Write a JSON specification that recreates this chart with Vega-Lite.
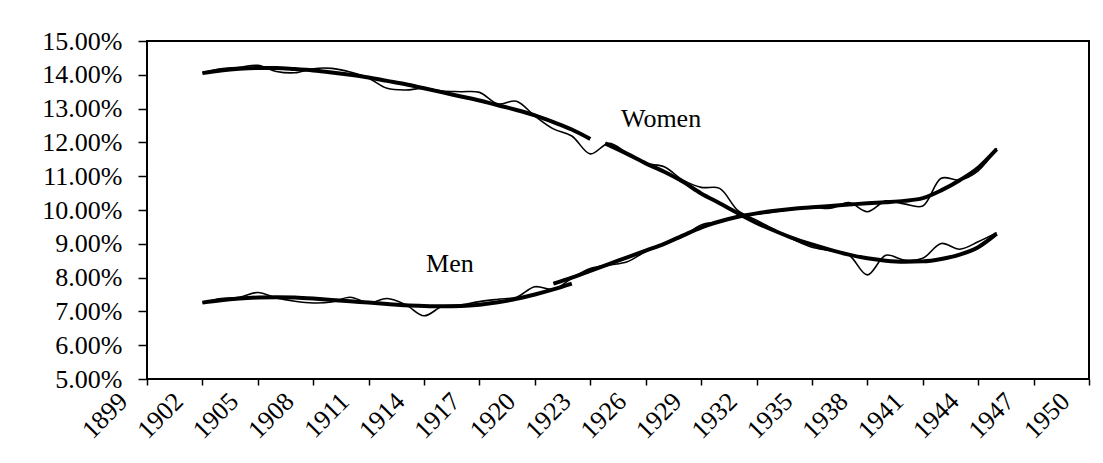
{
  "$schema": "https://vega.github.io/schema/vega-lite/v6.json",
  "width": 942,
  "height": 338,
  "autosize": {"type": "none"},
  "padding": {"left": 147, "top": 41, "right": 14, "bottom": 84},
  "background": "white",
  "config": {
    "view": {"stroke": "black", "strokeWidth": 2},
    "font": "Liberation Serif",
    "axis": {"labelOverlap": false, "labelSeparation": 0}
  },
  "datasets": {
    "series": [
      {"sex": "Women", "kind": "raw", "seg": "W-raw", "year": 1902, "value": 14.06},
      {"sex": "Women", "kind": "raw", "seg": "W-raw", "year": 1903, "value": 14.18},
      {"sex": "Women", "kind": "raw", "seg": "W-raw", "year": 1904, "value": 14.22},
      {"sex": "Women", "kind": "raw", "seg": "W-raw", "year": 1905, "value": 14.28},
      {"sex": "Women", "kind": "raw", "seg": "W-raw", "year": 1906, "value": 14.1},
      {"sex": "Women", "kind": "raw", "seg": "W-raw", "year": 1907, "value": 14.06},
      {"sex": "Women", "kind": "raw", "seg": "W-raw", "year": 1908, "value": 14.18},
      {"sex": "Women", "kind": "raw", "seg": "W-raw", "year": 1909, "value": 14.19},
      {"sex": "Women", "kind": "raw", "seg": "W-raw", "year": 1910, "value": 14.08},
      {"sex": "Women", "kind": "raw", "seg": "W-raw", "year": 1911, "value": 13.9},
      {"sex": "Women", "kind": "raw", "seg": "W-raw", "year": 1912, "value": 13.6},
      {"sex": "Women", "kind": "raw", "seg": "W-raw", "year": 1913, "value": 13.55},
      {"sex": "Women", "kind": "raw", "seg": "W-raw", "year": 1914, "value": 13.6},
      {"sex": "Women", "kind": "raw", "seg": "W-raw", "year": 1915, "value": 13.52},
      {"sex": "Women", "kind": "raw", "seg": "W-raw", "year": 1916, "value": 13.5},
      {"sex": "Women", "kind": "raw", "seg": "W-raw", "year": 1917, "value": 13.48},
      {"sex": "Women", "kind": "raw", "seg": "W-raw", "year": 1918, "value": 13.14},
      {"sex": "Women", "kind": "raw", "seg": "W-raw", "year": 1919, "value": 13.22},
      {"sex": "Women", "kind": "raw", "seg": "W-raw", "year": 1920, "value": 12.78},
      {"sex": "Women", "kind": "raw", "seg": "W-raw", "year": 1921, "value": 12.4},
      {"sex": "Women", "kind": "raw", "seg": "W-raw", "year": 1922, "value": 12.19},
      {"sex": "Women", "kind": "raw", "seg": "W-raw", "year": 1923, "value": 11.66},
      {"sex": "Women", "kind": "raw", "seg": "W-raw", "year": 1924, "value": 11.97},
      {"sex": "Women", "kind": "raw", "seg": "W-raw", "year": 1925, "value": 11.68},
      {"sex": "Women", "kind": "raw", "seg": "W-raw", "year": 1926, "value": 11.38},
      {"sex": "Women", "kind": "raw", "seg": "W-raw", "year": 1927, "value": 11.28},
      {"sex": "Women", "kind": "raw", "seg": "W-raw", "year": 1928, "value": 10.89},
      {"sex": "Women", "kind": "raw", "seg": "W-raw", "year": 1929, "value": 10.67},
      {"sex": "Women", "kind": "raw", "seg": "W-raw", "year": 1930, "value": 10.64},
      {"sex": "Women", "kind": "raw", "seg": "W-raw", "year": 1931, "value": 9.98},
      {"sex": "Women", "kind": "raw", "seg": "W-raw", "year": 1932, "value": 9.7},
      {"sex": "Women", "kind": "raw", "seg": "W-raw", "year": 1933, "value": 9.41},
      {"sex": "Women", "kind": "raw", "seg": "W-raw", "year": 1934, "value": 9.13},
      {"sex": "Women", "kind": "raw", "seg": "W-raw", "year": 1935, "value": 8.9},
      {"sex": "Women", "kind": "raw", "seg": "W-raw", "year": 1936, "value": 8.8},
      {"sex": "Women", "kind": "raw", "seg": "W-raw", "year": 1937, "value": 8.67},
      {"sex": "Women", "kind": "raw", "seg": "W-raw", "year": 1938, "value": 8.08},
      {"sex": "Women", "kind": "raw", "seg": "W-raw", "year": 1939, "value": 8.66},
      {"sex": "Women", "kind": "raw", "seg": "W-raw", "year": 1940, "value": 8.52},
      {"sex": "Women", "kind": "raw", "seg": "W-raw", "year": 1941, "value": 8.57},
      {"sex": "Women", "kind": "raw", "seg": "W-raw", "year": 1942, "value": 9.01},
      {"sex": "Women", "kind": "raw", "seg": "W-raw", "year": 1943, "value": 8.84},
      {"sex": "Women", "kind": "raw", "seg": "W-raw", "year": 1944, "value": 9.06},
      {"sex": "Women", "kind": "raw", "seg": "W-raw", "year": 1945, "value": 9.33},

      {"sex": "Men", "kind": "raw", "seg": "M-raw", "year": 1902, "value": 7.26},
      {"sex": "Men", "kind": "raw", "seg": "M-raw", "year": 1903, "value": 7.38},
      {"sex": "Men", "kind": "raw", "seg": "M-raw", "year": 1904, "value": 7.42},
      {"sex": "Men", "kind": "raw", "seg": "M-raw", "year": 1905, "value": 7.56},
      {"sex": "Men", "kind": "raw", "seg": "M-raw", "year": 1906, "value": 7.4},
      {"sex": "Men", "kind": "raw", "seg": "M-raw", "year": 1907, "value": 7.3},
      {"sex": "Men", "kind": "raw", "seg": "M-raw", "year": 1908, "value": 7.25},
      {"sex": "Men", "kind": "raw", "seg": "M-raw", "year": 1909, "value": 7.28},
      {"sex": "Men", "kind": "raw", "seg": "M-raw", "year": 1910, "value": 7.42},
      {"sex": "Men", "kind": "raw", "seg": "M-raw", "year": 1911, "value": 7.25},
      {"sex": "Men", "kind": "raw", "seg": "M-raw", "year": 1912, "value": 7.38},
      {"sex": "Men", "kind": "raw", "seg": "M-raw", "year": 1913, "value": 7.2},
      {"sex": "Men", "kind": "raw", "seg": "M-raw", "year": 1914, "value": 6.87},
      {"sex": "Men", "kind": "raw", "seg": "M-raw", "year": 1915, "value": 7.15},
      {"sex": "Men", "kind": "raw", "seg": "M-raw", "year": 1916, "value": 7.19},
      {"sex": "Men", "kind": "raw", "seg": "M-raw", "year": 1917, "value": 7.29},
      {"sex": "Men", "kind": "raw", "seg": "M-raw", "year": 1918, "value": 7.36},
      {"sex": "Men", "kind": "raw", "seg": "M-raw", "year": 1919, "value": 7.42},
      {"sex": "Men", "kind": "raw", "seg": "M-raw", "year": 1920, "value": 7.73},
      {"sex": "Men", "kind": "raw", "seg": "M-raw", "year": 1921, "value": 7.65},
      {"sex": "Men", "kind": "raw", "seg": "M-raw", "year": 1922, "value": 7.98},
      {"sex": "Men", "kind": "raw", "seg": "M-raw", "year": 1923, "value": 8.27},
      {"sex": "Men", "kind": "raw", "seg": "M-raw", "year": 1924, "value": 8.37},
      {"sex": "Men", "kind": "raw", "seg": "M-raw", "year": 1925, "value": 8.47},
      {"sex": "Men", "kind": "raw", "seg": "M-raw", "year": 1926, "value": 8.77},
      {"sex": "Men", "kind": "raw", "seg": "M-raw", "year": 1927, "value": 9.01},
      {"sex": "Men", "kind": "raw", "seg": "M-raw", "year": 1928, "value": 9.21},
      {"sex": "Men", "kind": "raw", "seg": "M-raw", "year": 1929, "value": 9.56},
      {"sex": "Men", "kind": "raw", "seg": "M-raw", "year": 1930, "value": 9.65},
      {"sex": "Men", "kind": "raw", "seg": "M-raw", "year": 1931, "value": 9.82},
      {"sex": "Men", "kind": "raw", "seg": "M-raw", "year": 1932, "value": 9.88},
      {"sex": "Men", "kind": "raw", "seg": "M-raw", "year": 1933, "value": 9.95},
      {"sex": "Men", "kind": "raw", "seg": "M-raw", "year": 1934, "value": 10.02},
      {"sex": "Men", "kind": "raw", "seg": "M-raw", "year": 1935, "value": 10.08},
      {"sex": "Men", "kind": "raw", "seg": "M-raw", "year": 1936, "value": 10.05},
      {"sex": "Men", "kind": "raw", "seg": "M-raw", "year": 1937, "value": 10.22},
      {"sex": "Men", "kind": "raw", "seg": "M-raw", "year": 1938, "value": 9.95},
      {"sex": "Men", "kind": "raw", "seg": "M-raw", "year": 1939, "value": 10.27},
      {"sex": "Men", "kind": "raw", "seg": "M-raw", "year": 1940, "value": 10.18},
      {"sex": "Men", "kind": "raw", "seg": "M-raw", "year": 1941, "value": 10.12},
      {"sex": "Men", "kind": "raw", "seg": "M-raw", "year": 1942, "value": 10.94},
      {"sex": "Men", "kind": "raw", "seg": "M-raw", "year": 1943, "value": 10.89},
      {"sex": "Men", "kind": "raw", "seg": "M-raw", "year": 1944, "value": 11.16},
      {"sex": "Men", "kind": "raw", "seg": "M-raw", "year": 1945, "value": 11.83},

      {"sex": "Women", "kind": "trend", "seg": "W-t1", "year": 1902, "value": 14.05},
      {"sex": "Women", "kind": "trend", "seg": "W-t1", "year": 1903, "value": 14.13},
      {"sex": "Women", "kind": "trend", "seg": "W-t1", "year": 1904, "value": 14.18},
      {"sex": "Women", "kind": "trend", "seg": "W-t1", "year": 1905, "value": 14.2},
      {"sex": "Women", "kind": "trend", "seg": "W-t1", "year": 1906, "value": 14.2},
      {"sex": "Women", "kind": "trend", "seg": "W-t1", "year": 1907, "value": 14.17},
      {"sex": "Women", "kind": "trend", "seg": "W-t1", "year": 1908, "value": 14.13},
      {"sex": "Women", "kind": "trend", "seg": "W-t1", "year": 1909, "value": 14.07},
      {"sex": "Women", "kind": "trend", "seg": "W-t1", "year": 1910, "value": 14.0},
      {"sex": "Women", "kind": "trend", "seg": "W-t1", "year": 1911, "value": 13.92},
      {"sex": "Women", "kind": "trend", "seg": "W-t1", "year": 1912, "value": 13.82},
      {"sex": "Women", "kind": "trend", "seg": "W-t1", "year": 1913, "value": 13.72},
      {"sex": "Women", "kind": "trend", "seg": "W-t1", "year": 1914, "value": 13.6},
      {"sex": "Women", "kind": "trend", "seg": "W-t1", "year": 1915, "value": 13.48},
      {"sex": "Women", "kind": "trend", "seg": "W-t1", "year": 1916, "value": 13.36},
      {"sex": "Women", "kind": "trend", "seg": "W-t1", "year": 1917, "value": 13.24},
      {"sex": "Women", "kind": "trend", "seg": "W-t1", "year": 1918, "value": 13.1},
      {"sex": "Women", "kind": "trend", "seg": "W-t1", "year": 1919, "value": 12.96},
      {"sex": "Women", "kind": "trend", "seg": "W-t1", "year": 1920, "value": 12.8},
      {"sex": "Women", "kind": "trend", "seg": "W-t1", "year": 1921, "value": 12.6},
      {"sex": "Women", "kind": "trend", "seg": "W-t1", "year": 1922, "value": 12.38},
      {"sex": "Women", "kind": "trend", "seg": "W-t1", "year": 1923, "value": 12.1},

      {"sex": "Women", "kind": "trend", "seg": "W-t2", "year": 1923.8, "value": 11.97},
      {"sex": "Women", "kind": "trend", "seg": "W-t2", "year": 1925, "value": 11.66},
      {"sex": "Women", "kind": "trend", "seg": "W-t2", "year": 1926, "value": 11.38},
      {"sex": "Women", "kind": "trend", "seg": "W-t2", "year": 1927, "value": 11.13},
      {"sex": "Women", "kind": "trend", "seg": "W-t2", "year": 1928, "value": 10.84},
      {"sex": "Women", "kind": "trend", "seg": "W-t2", "year": 1929, "value": 10.49},
      {"sex": "Women", "kind": "trend", "seg": "W-t2", "year": 1930, "value": 10.2},
      {"sex": "Women", "kind": "trend", "seg": "W-t2", "year": 1931, "value": 9.9},
      {"sex": "Women", "kind": "trend", "seg": "W-t2", "year": 1932, "value": 9.62},
      {"sex": "Women", "kind": "trend", "seg": "W-t2", "year": 1933, "value": 9.38},
      {"sex": "Women", "kind": "trend", "seg": "W-t2", "year": 1934, "value": 9.16},
      {"sex": "Women", "kind": "trend", "seg": "W-t2", "year": 1935, "value": 8.98},
      {"sex": "Women", "kind": "trend", "seg": "W-t2", "year": 1936, "value": 8.82},
      {"sex": "Women", "kind": "trend", "seg": "W-t2", "year": 1937, "value": 8.68},
      {"sex": "Women", "kind": "trend", "seg": "W-t2", "year": 1938, "value": 8.57},
      {"sex": "Women", "kind": "trend", "seg": "W-t2", "year": 1939, "value": 8.5},
      {"sex": "Women", "kind": "trend", "seg": "W-t2", "year": 1940, "value": 8.47},
      {"sex": "Women", "kind": "trend", "seg": "W-t2", "year": 1941, "value": 8.48},
      {"sex": "Women", "kind": "trend", "seg": "W-t2", "year": 1942, "value": 8.55},
      {"sex": "Women", "kind": "trend", "seg": "W-t2", "year": 1943, "value": 8.68},
      {"sex": "Women", "kind": "trend", "seg": "W-t2", "year": 1944, "value": 8.9},
      {"sex": "Women", "kind": "trend", "seg": "W-t2", "year": 1945, "value": 9.3},

      {"sex": "Men", "kind": "trend", "seg": "M-t1", "year": 1902, "value": 7.26},
      {"sex": "Men", "kind": "trend", "seg": "M-t1", "year": 1903, "value": 7.33},
      {"sex": "Men", "kind": "trend", "seg": "M-t1", "year": 1904, "value": 7.38},
      {"sex": "Men", "kind": "trend", "seg": "M-t1", "year": 1905, "value": 7.41},
      {"sex": "Men", "kind": "trend", "seg": "M-t1", "year": 1906, "value": 7.42},
      {"sex": "Men", "kind": "trend", "seg": "M-t1", "year": 1907, "value": 7.41},
      {"sex": "Men", "kind": "trend", "seg": "M-t1", "year": 1908, "value": 7.38},
      {"sex": "Men", "kind": "trend", "seg": "M-t1", "year": 1909, "value": 7.34},
      {"sex": "Men", "kind": "trend", "seg": "M-t1", "year": 1910, "value": 7.3},
      {"sex": "Men", "kind": "trend", "seg": "M-t1", "year": 1911, "value": 7.26},
      {"sex": "Men", "kind": "trend", "seg": "M-t1", "year": 1912, "value": 7.22},
      {"sex": "Men", "kind": "trend", "seg": "M-t1", "year": 1913, "value": 7.18},
      {"sex": "Men", "kind": "trend", "seg": "M-t1", "year": 1914, "value": 7.16},
      {"sex": "Men", "kind": "trend", "seg": "M-t1", "year": 1915, "value": 7.15},
      {"sex": "Men", "kind": "trend", "seg": "M-t1", "year": 1916, "value": 7.16},
      {"sex": "Men", "kind": "trend", "seg": "M-t1", "year": 1917, "value": 7.2},
      {"sex": "Men", "kind": "trend", "seg": "M-t1", "year": 1918, "value": 7.27},
      {"sex": "Men", "kind": "trend", "seg": "M-t1", "year": 1919, "value": 7.37},
      {"sex": "Men", "kind": "trend", "seg": "M-t1", "year": 1920, "value": 7.5},
      {"sex": "Men", "kind": "trend", "seg": "M-t1", "year": 1921, "value": 7.65},
      {"sex": "Men", "kind": "trend", "seg": "M-t1", "year": 1922, "value": 7.82},

      {"sex": "Men", "kind": "trend", "seg": "M-t2", "year": 1921, "value": 7.82},
      {"sex": "Men", "kind": "trend", "seg": "M-t2", "year": 1922, "value": 8.0},
      {"sex": "Men", "kind": "trend", "seg": "M-t2", "year": 1923, "value": 8.2},
      {"sex": "Men", "kind": "trend", "seg": "M-t2", "year": 1924, "value": 8.4},
      {"sex": "Men", "kind": "trend", "seg": "M-t2", "year": 1925, "value": 8.6},
      {"sex": "Men", "kind": "trend", "seg": "M-t2", "year": 1926, "value": 8.8},
      {"sex": "Men", "kind": "trend", "seg": "M-t2", "year": 1927, "value": 9.0},
      {"sex": "Men", "kind": "trend", "seg": "M-t2", "year": 1928, "value": 9.24},
      {"sex": "Men", "kind": "trend", "seg": "M-t2", "year": 1929, "value": 9.48},
      {"sex": "Men", "kind": "trend", "seg": "M-t2", "year": 1930, "value": 9.66},
      {"sex": "Men", "kind": "trend", "seg": "M-t2", "year": 1931, "value": 9.8},
      {"sex": "Men", "kind": "trend", "seg": "M-t2", "year": 1932, "value": 9.9},
      {"sex": "Men", "kind": "trend", "seg": "M-t2", "year": 1933, "value": 9.98},
      {"sex": "Men", "kind": "trend", "seg": "M-t2", "year": 1934, "value": 10.04},
      {"sex": "Men", "kind": "trend", "seg": "M-t2", "year": 1935, "value": 10.08},
      {"sex": "Men", "kind": "trend", "seg": "M-t2", "year": 1936, "value": 10.12},
      {"sex": "Men", "kind": "trend", "seg": "M-t2", "year": 1937, "value": 10.16},
      {"sex": "Men", "kind": "trend", "seg": "M-t2", "year": 1938, "value": 10.2},
      {"sex": "Men", "kind": "trend", "seg": "M-t2", "year": 1939, "value": 10.23},
      {"sex": "Men", "kind": "trend", "seg": "M-t2", "year": 1940, "value": 10.27},
      {"sex": "Men", "kind": "trend", "seg": "M-t2", "year": 1941, "value": 10.35},
      {"sex": "Men", "kind": "trend", "seg": "M-t2", "year": 1942, "value": 10.58},
      {"sex": "Men", "kind": "trend", "seg": "M-t2", "year": 1943, "value": 10.88},
      {"sex": "Men", "kind": "trend", "seg": "M-t2", "year": 1944, "value": 11.25},
      {"sex": "Men", "kind": "trend", "seg": "M-t2", "year": 1945, "value": 11.8}
    ],
    "labels": [
      {"label": "Women", "year": 1926.83, "value": 12.45},
      {"label": "Men", "year": 1915.4, "value": 8.17}
    ]
  },
  "encoding": {
    "x": {
      "field": "year", "type": "quantitative",
      "scale": {"domain": [1899, 1950], "nice": false, "zero": false},
      "axis": {
        "title": null,
        "values": [1899, 1902, 1905, 1908, 1911, 1914, 1917, 1920, 1923, 1926, 1929, 1932, 1935, 1938, 1941, 1944, 1947, 1950],
        "format": "d",
        "grid": false,
        "domain": false,
        "tickColor": "black",
        "tickSize": 6,
        "tickWidth": 1.5,
        "labelAngle": -45,
        "labelAlign": "right",
        "labelBaseline": "middle",
        "labelPadding": 12,
        "labelOffset": -24,
        "labelFont": "Liberation Serif",
        "labelFontSize": 26,
        "labelColor": "black",
        "labelOverlap": false,
        "labelFlush": false,
        "labelBound": false
      }
    },
    "y": {
      "field": "value", "type": "quantitative",
      "scale": {"domain": [5, 15], "nice": false, "zero": false},
      "axis": {
        "title": null,
        "values": [5, 6, 7, 8, 9, 10, 11, 12, 13, 14, 15],
        "tickCount": 11,
        "labelExpr": "format(datum.value, '.2f') + '%'",
        "grid": false,
        "domain": false,
        "tickColor": "black",
        "tickSize": 9,
        "tickWidth": 1.5,
        "labelPadding": 16,
        "labelFont": "Liberation Serif",
        "labelFontSize": 26,
        "labelColor": "black",
        "labelOverlap": false,
        "labelFlush": false,
        "labelBound": false
      }
    }
  },
  "layer": [
    {
      "data": {"name": "series"},
      "transform": [{"filter": "datum.kind === 'raw'"}],
      "mark": {"type": "line", "color": "black", "strokeWidth": 1.6, "interpolate": "catmull-rom"},
      "encoding": {"detail": {"field": "seg"}}
    },
    {
      "data": {"name": "series"},
      "transform": [{"filter": "datum.kind === 'trend'"}],
      "mark": {"type": "line", "color": "black", "strokeWidth": 4, "interpolate": "monotone"},
      "encoding": {"detail": {"field": "seg"}}
    },
    {
      "data": {"name": "labels"},
      "mark": {"type": "text", "font": "Liberation Serif", "fontSize": 26, "color": "black", "align": "center", "baseline": "alphabetic"},
      "encoding": {"text": {"field": "label"}}
    }
  ]
}
